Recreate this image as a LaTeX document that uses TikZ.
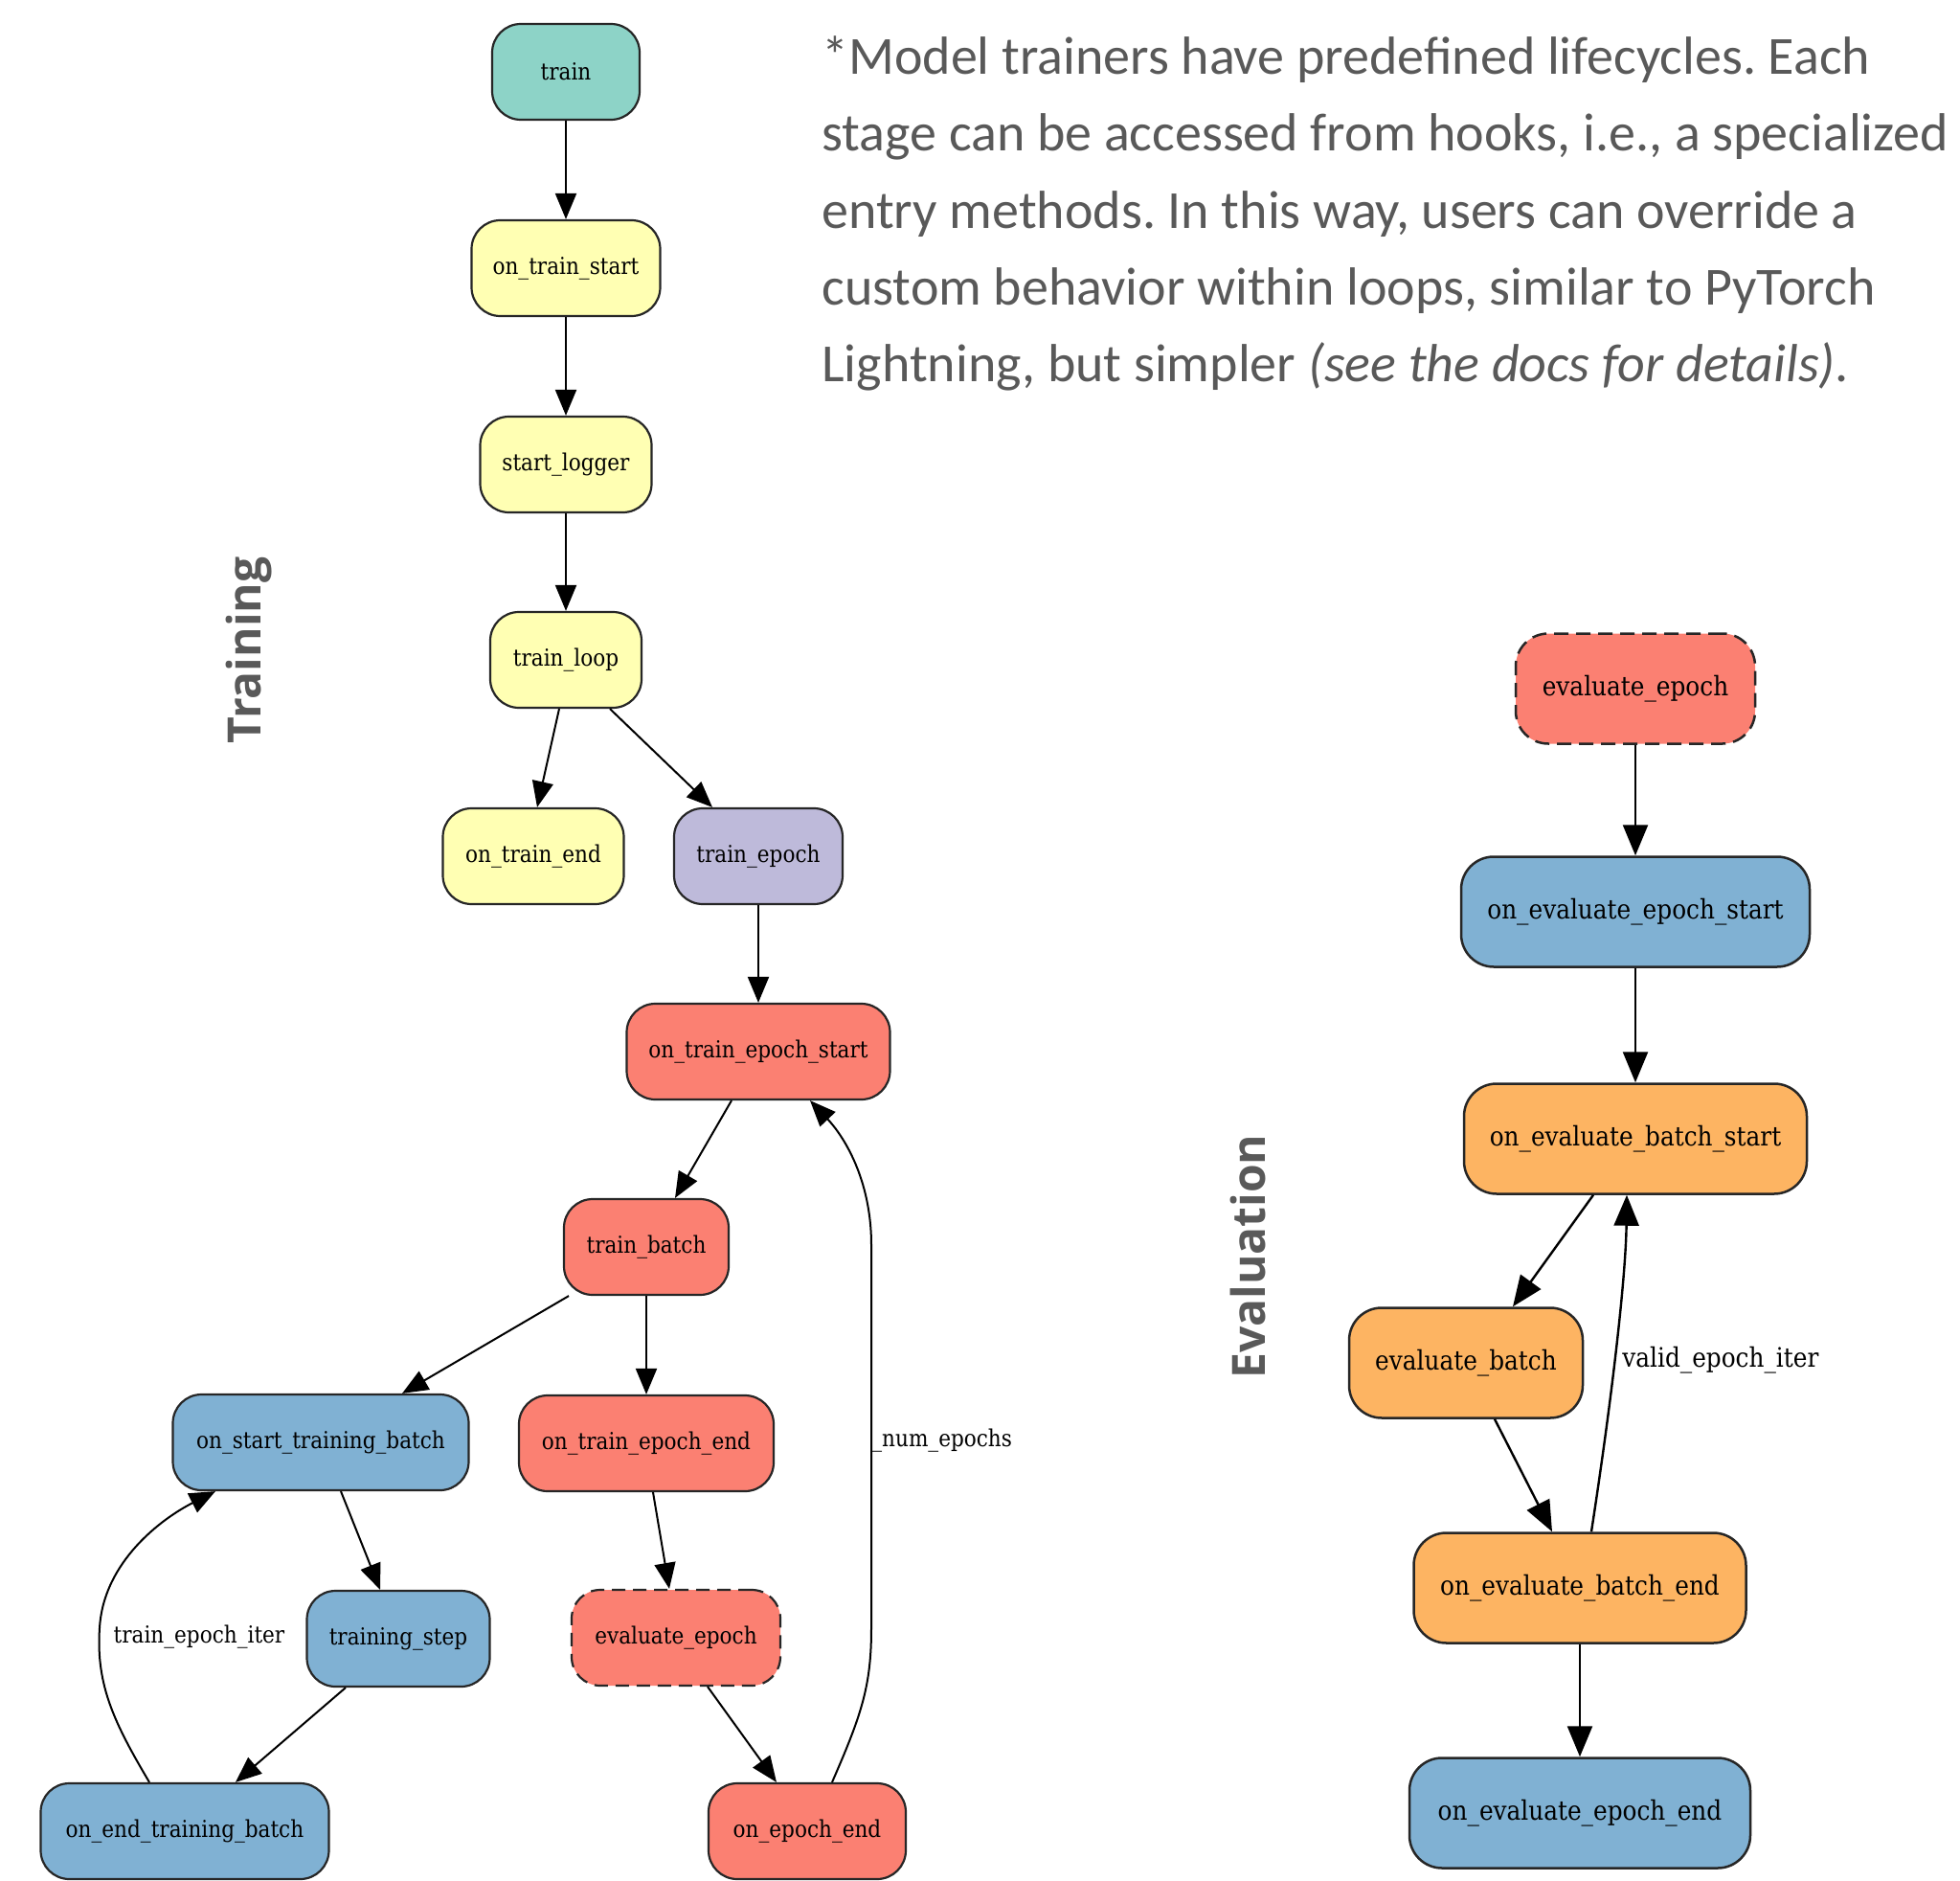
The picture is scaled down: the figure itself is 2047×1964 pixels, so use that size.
\documentclass[tikz,border=0pt]{standalone}
\usepackage{fontspec}
\setmainfont{DejaVu Serif}
\newfontfamily\nodefont[FakeStretch=0.885]{DejaVu Serif}
\newfontfamily\parafont{Carlito}
\newfontfamily\titlefont{Open Sans}
\usetikzlibrary{arrows.meta}
\definecolor{cteal}{HTML}{8DD3C7}
\definecolor{cyellow}{HTML}{FFFFB3}
\definecolor{clav}{HTML}{BEBADA}
\definecolor{csalmon}{HTML}{FB8072}
\definecolor{cblue}{HTML}{80B1D3}
\definecolor{corange}{HTML}{FDB462}
\definecolor{cgray}{HTML}{595959}
\frenchspacing
\begin{document}
\begin{tikzpicture}[x=0.5pt,y=-0.5pt,
  box/.style={rectangle, rounded corners=15pt, draw=black!85, line width=1.1pt, inner sep=0pt,
    minimum height=50pt, font=\nodefont\fontsize{12.2}{14}\selectfont, text=black},
  ebox/.style={box, rounded corners=17pt, minimum height=57.5pt,
    font=\nodefont\fontsize{14}{16}\selectfont, line width=1.25pt},
  tedge/.style={line width=1pt, -{Triangle[length=13.5pt,width=11pt]}},
  eedge/.style={line width=1.2pt, -{Triangle[length=16pt,width=13pt]}},
  tlabel/.style={font=\nodefont\fontsize{12.2}{14}\selectfont, inner sep=0pt},
  elabel/.style={font=\nodefont\fontsize{14}{16}\selectfont, inner sep=0pt},
  para/.style={font=\parafont\fontsize{28}{39}\selectfont, text=cgray, inner sep=0pt, anchor=base west},
  title/.style={font=\titlefont\bfseries\fontsize{24}{28}\selectfont, text=cgray, inner sep=0pt, rotate=90, anchor=base},
]
\useasboundingbox (0,0) rectangle (2047,1964);

% ---------- Training ----------
\node[box, fill=cteal, minimum width=77pt] (train) at (591,75) {train};
\node[box, fill=cyellow, minimum width=98.5pt] (ots) at (591,280) {on\_train\_start};
\node[box, fill=cyellow, minimum width=89.5pt] (sl) at (591,485) {start\_logger};
\node[box, fill=cyellow, minimum width=79pt] (tl) at (591,689) {train\_loop};
\node[box, fill=cyellow, minimum width=94.5pt] (ote) at (557,894) {on\_train\_end};
\node[box, fill=clav, minimum width=88pt] (te) at (792,894) {train\_epoch};
\node[box, fill=csalmon, minimum width=137.5pt] (otes) at (792,1098) {on\_train\_epoch\_start};
\node[box, fill=csalmon, minimum width=86pt] (tb) at (675,1302) {train\_batch};
\node[box, fill=cblue, minimum width=154.5pt] (ostb) at (335,1506) {on\_start\_training\_batch};
\node[box, fill=csalmon, minimum width=133pt] (otee) at (675,1507) {on\_train\_epoch\_end};
\node[box, fill=cblue, minimum width=95.5pt] (ts) at (416,1711) {training\_step};
\node[box, fill=csalmon, minimum width=109pt, dash pattern=on 7pt off 4pt] (ee) at (706,1710) {evaluate\_epoch};
\node[box, fill=cblue, minimum width=150.5pt] (oetb) at (193,1912) {on\_end\_training\_batch};
\node[box, fill=csalmon, minimum width=103pt] (oee) at (843,1912) {on\_epoch\_end};

\draw[tedge] (train) -- (ots);
\draw[tedge] (ots) -- (sl);
\draw[tedge] (sl) -- (tl);
\draw[tedge] ([xshift=-3.5pt]tl.south) -- ([xshift=2pt]ote.north);
\draw[tedge] ([xshift=23pt]tl.south) -- ([xshift=-24pt]te.north);
\draw[tedge] (te) -- (otes);
\draw[tedge] ([xshift=-14pt]otes.south) -- ([xshift=15pt]tb.north);
\draw[tedge] ([xshift=-40.5pt]tb.south) -- ([xshift=42.5pt]ostb.north);
\draw[tedge] (tb) -- (otee);
\draw[tedge] ([xshift=10.5pt]ostb.south) -- ([xshift=-9.5pt]ts.north);
\draw[tedge] ([xshift=-27.5pt]ts.south) -- ([xshift=26.5pt]oetb.north);
\draw[tedge] ([xshift=3.5pt]otee.south) -- ([xshift=-3.5pt]ee.north);
\draw[tedge] ([xshift=16.5pt]ee.south) -- ([xshift=-16pt]oee.north);
\draw[tedge] ([xshift=13pt]oee.north) .. controls (900,1790) and (910,1760) .. (910,1700)
  -- (910,1300) .. controls (910,1230) and (880,1185) .. ([xshift=27pt]otes.south);
\node[tlabel, anchor=west] (lnum) at (910,1504) {\_num\_epochs};
\draw[tedge] ([xshift=-18.5pt]oetb.north) .. controls (120,1800) and (100,1760) .. (104,1700)
  .. controls (108,1630) and (170,1585) .. ([xshift=-55pt]ostb.south);
\node[tlabel] (liter) at (208,1709) {train\_epoch\_iter};

% ---------- Evaluation ----------
\node[ebox, fill=csalmon, minimum width=125pt, dash pattern=on 7.5pt off 4pt] (eve) at (1708,719) {evaluate\_epoch};
\node[ebox, fill=cblue, minimum width=182pt] (oees) at (1708,952) {on\_evaluate\_epoch\_start};
\node[ebox, fill=corange, minimum width=179pt] (oebs) at (1708,1189) {on\_evaluate\_batch\_start};
\node[ebox, fill=corange, minimum width=122pt] (eb) at (1531,1423) {evaluate\_batch};
\node[ebox, fill=corange, minimum width=173.5pt] (oebe) at (1650,1658) {on\_evaluate\_batch\_end};
\node[ebox, fill=cblue, minimum width=178pt] (oeee) at (1650,1893) {on\_evaluate\_epoch\_end};

\draw[eedge] (eve) -- (oees);
\draw[eedge] (oees) -- (oees |- oebs.north);
\draw[eedge] ([xshift=-22pt]oebs.south) -- ([xshift=24.5pt]eb.north);
\draw[eedge] ([xshift=15pt]eb.south) -- ([xshift=-14.5pt]oebe.north);
\draw[eedge] ([xshift=6pt]oebe.north) .. controls (1685,1450) and (1698,1330) .. ([xshift=-4.5pt]oebs.south);
\node[elabel, anchor=west] (lvalid) at (1694,1420) {valid\_epoch\_iter};
\draw[eedge] (oebe) -- (oeee);

% ---------- Texts ----------
\node[title] (ttrain) at (272,679) {Training};
\node[title] (teval) at (1321,1312) {Evaluation};
\node[para] (p1) at (858,78) {*Model trainers have predefined lifecycles. Each};
\node[para] (p2) at (858,158) {stage can be accessed from hooks, i.e., a specialized};
\node[para] (p3) at (858,238) {entry methods. In this way, users can override a};
\node[para] (p4) at (858,318) {custom behavior within loops, similar to PyTorch};
\node[para] (p5) at (858,398) {Lightning, but simpler \textit{(see the docs for details)}.};
\end{tikzpicture}
\end{document}
